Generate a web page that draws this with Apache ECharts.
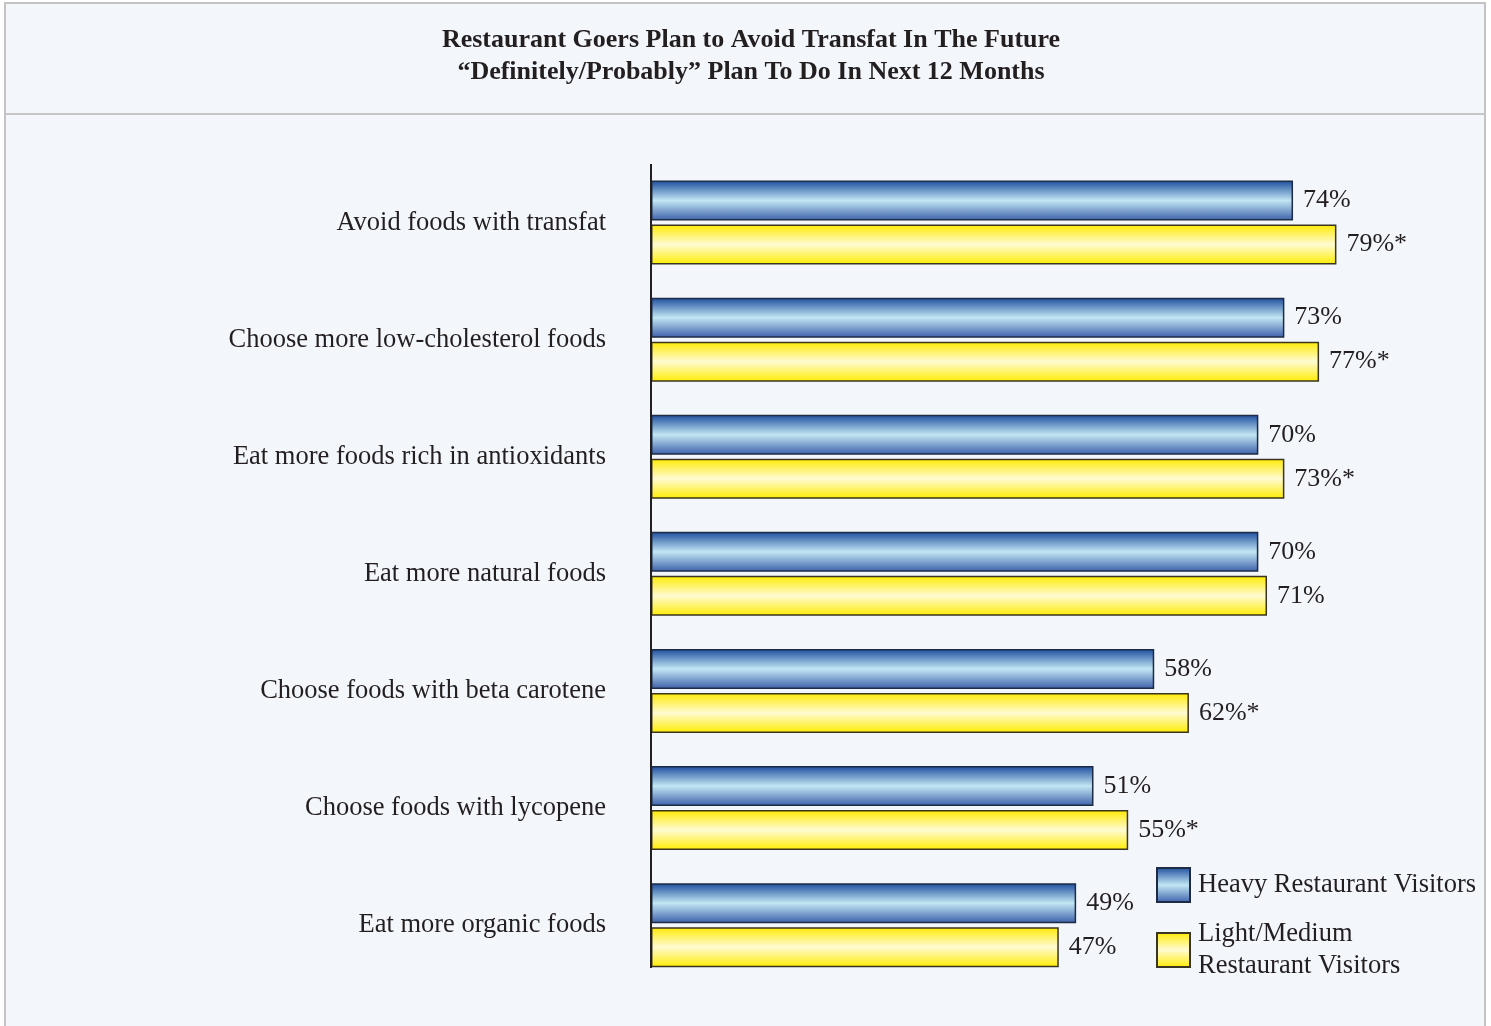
<!DOCTYPE html>
<html>
<head>
<meta charset="utf-8">
<title>Restaurant Goers Plan to Avoid Transfat</title>
<script src="https://cdn.jsdelivr.net/npm/echarts@6/dist/echarts.min.js"></script>
<style>
  html, body { margin: 0; padding: 0; background: #ffffff; }
  #chart { width: 1491px; height: 1026px; }
</style>
</head>
<body>
<div id="chart"></div>
<script>
// Survey items, top to bottom
const categories = [
  'Avoid foods with transfat',
  'Choose more low-cholesterol foods',
  'Eat more foods rich in antioxidants',
  'Eat more natural foods',
  'Choose foods with beta carotene',
  'Choose foods with lycopene',
  'Eat more organic foods'
];
// Percent who "definitely/probably" plan to do it
const heavyVisitors = [74, 73, 70, 70, 58, 51, 49];
const lightMediumVisitors = [79, 77, 73, 71, 62, 55, 47];
// Items where light/medium visitors differ significantly (marked with *)
const lightMediumSignificant = [true, true, true, false, true, true, false];

const seriesNames = ['Heavy Restaurant Visitors', 'Light/Medium\nRestaurant Visitors'];

const TEXT = '#231f20';
const SERIF = '"Liberation Serif", "Times New Roman", serif';

const blueFill = new echarts.graphic.LinearGradient(0, 0, 0, 1, [
  { offset: 0, color: '#1c4c9e' },
  { offset: 0.5, color: '#c2e6f3' },
  { offset: 1, color: '#3b5fa9' }
]);
const yellowFill = new echarts.graphic.LinearGradient(0, 0, 0, 1, [
  { offset: 0, color: '#ffea00' },
  { offset: 0.5, color: '#fffbd2' },
  { offset: 1, color: '#ffec00' }
]);

const chart = echarts.init(document.getElementById('chart'), null, { renderer: 'canvas' });

chart.setOption({
  backgroundColor: '#ffffff',
  animation: false,
  graphic: [
    {
      type: 'rect', z: -10,
      shape: { x: 5, y: 3, width: 1480, height: 1040 },
      style: { fill: '#f3f6fb', stroke: '#c3c3c3', lineWidth: 2 }
    },
    {
      type: 'line', z: -9,
      shape: { x1: 5, y1: 114, x2: 1485, y2: 114 },
      style: { stroke: '#c6c6c6', lineWidth: 2 }
    },
    {
      // category axis spine
      type: 'line', z: 5,
      shape: { x1: 651, y1: 164, x2: 651, y2: 968 },
      style: { stroke: '#231f20', lineWidth: 2 }
    }
  ],
  title: {
    text: 'Restaurant Goers Plan to Avoid Transfat In The Future\n\u201CDefinitely/Probably\u201D Plan To Do In Next 12 Months',
    left: 746,
    textAlign: 'center',
    top: 19,
    textStyle: {
      fontFamily: SERIF,
      fontWeight: 'bold',
      fontSize: 26,
      lineHeight: 32,
      color: TEXT
    }
  },
  legend: {
    orient: 'vertical',
    left: 1151,
    top: 862,
    icon: 'rect',
    itemWidth: 33,
    itemHeight: 34,
    itemGap: 15,
    data: seriesNames,
    textStyle: {
      fontFamily: SERIF,
      fontSize: 26.5,
      lineHeight: 32,
      color: TEXT,
      padding: [0, 0, 0, 3]
    }
  },
  grid: {
    left: 651,
    top: 164,
    width: 694.1,
    height: 819.7,
    containLabel: false
  },
  xAxis: {
    type: 'value',
    min: 0,
    max: 80,
    show: false
  },
  yAxis: {
    type: 'category',
    inverse: true,
    data: categories,
    axisLine: { show: false },
    axisTick: { show: false },
    axisLabel: {
      margin: 45,
      fontFamily: SERIF,
      fontSize: 26.5,
      color: TEXT
    }
  },
  series: [
    {
      name: seriesNames[0],
      type: 'bar',
      data: heavyVisitors,
      barWidth: 40,
      barGap: '10%',
      itemStyle: { color: blueFill, borderColor: '#1d2c44', borderWidth: 1.5 },
      label: {
        show: true,
        position: 'right',
        distance: 10,
        fontFamily: SERIF,
        fontSize: 26,
        color: TEXT,
        formatter: p => p.value + '%'
      }
    },
    {
      name: seriesNames[1],
      type: 'bar',
      data: lightMediumVisitors,
      barWidth: 40,
      itemStyle: { color: yellowFill, borderColor: '#3a3520', borderWidth: 1.5 },
      label: {
        show: true,
        position: 'right',
        distance: 10,
        fontFamily: SERIF,
        fontSize: 26,
        color: TEXT,
        formatter: p => p.value + '%' + (lightMediumSignificant[p.dataIndex] ? '*' : '')
      }
    }
  ]
});
</script>
</body>
</html>
